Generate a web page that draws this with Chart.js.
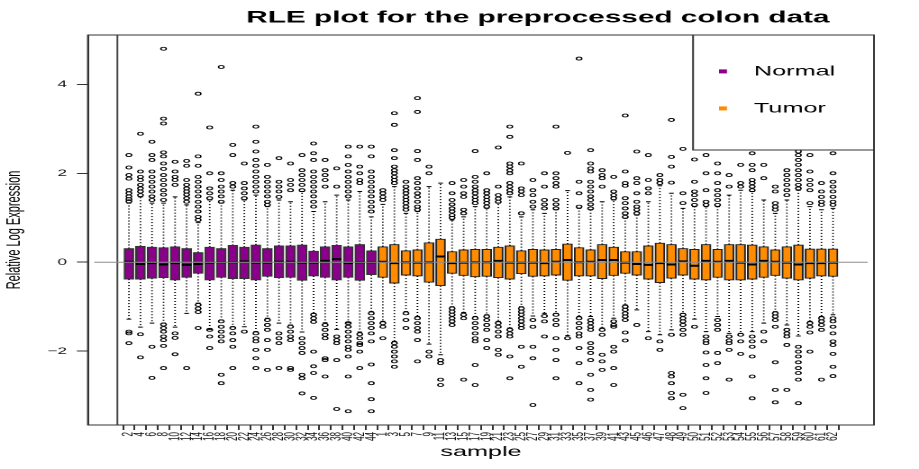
<!DOCTYPE html>
<html>
<head>
<meta charset="utf-8">
<title>RLE plot</title>
<script src="https://cdn.jsdelivr.net/npm/chart.js@4.4.1/dist/chart.umd.min.js"></script>
<style>
html, body { margin: 0; padding: 0; background: #fff; overflow: hidden; }
/* the original R plot is stretched sideways, so the chart is drawn narrow and scaled */
#wrap { width: 510px; height: 469px; transform: scaleX(1.802); transform-origin: 0 0; }
</style>
</head>
<body>
<div id="wrap"><canvas id="mycanvas"></canvas></div>
<script>
var sampleLabels = ["2","4","6","8","10","12","14","16","18","20","22","24","26","28","30","32","34","36","38","40","42","44",
    "1","3","5","7","9","11","13","15","17","19","21","23","25","27","29","31","33","35","37","39","41","43",
    "45","46","47","48","49","50","51","52","53","54","55","56","57","58","59","60","61","62"];

var groupNames = ["Normal", "Tumor"];
var groupColors = ["#8B008B", "#FF8C00"];
var groupSizes = [22, 40];

var q1 = [-0.38,-0.38,-0.36,-0.35,-0.40,-0.34,-0.25,-0.40,-0.34,-0.37,-0.37,-0.40,-0.32,-0.35,-0.34,-0.41,-0.31,-0.34,-0.40,-0.34,-0.41,-0.28,
    -0.34,-0.47,-0.29,-0.31,-0.45,-0.53,-0.25,-0.30,-0.33,-0.32,-0.35,-0.38,-0.26,-0.32,-0.31,-0.29,-0.41,-0.31,-0.31,-0.37,
    -0.30,-0.25,-0.29,-0.38,-0.46,-0.36,-0.29,-0.38,-0.40,-0.34,-0.40,-0.40,-0.38,-0.34,-0.30,-0.36,-0.40,-0.36,-0.31,-0.32];
var medians = [0.01,-0.04,-0.02,-0.05,-0.02,-0.06,-0.04,-0.01,0.00,0.00,0.02,-0.01,-0.01,0.01,0.01,-0.01,-0.01,0.03,0.07,-0.02,0.00,0.00,
    0.01,-0.02,0.00,-0.01,0.00,0.13,-0.02,-0.01,0.00,0.00,0.03,-0.01,-0.01,-0.01,-0.02,0.01,0.05,0.00,0.01,0.05,
    0.05,-0.01,-0.04,-0.06,-0.02,-0.05,0.02,-0.08,0.03,0.01,0.03,-0.01,-0.05,0.03,0.01,-0.01,-0.05,-0.02,-0.02,-0.01];
var q3 = [0.31,0.36,0.34,0.33,0.35,0.31,0.22,0.34,0.31,0.38,0.34,0.39,0.31,0.37,0.37,0.39,0.25,0.35,0.38,0.35,0.40,0.26,
    0.35,0.40,0.26,0.28,0.44,0.52,0.24,0.28,0.29,0.29,0.34,0.37,0.26,0.29,0.28,0.29,0.41,0.33,0.28,0.40,
    0.34,0.24,0.24,0.37,0.43,0.40,0.31,0.29,0.40,0.29,0.40,0.40,0.39,0.35,0.28,0.35,0.39,0.30,0.30,0.30];
var whiskLow = [-1.28,-1.46,-1.37,-1.37,-1.46,-1.15,-0.92,-1.51,-1.30,-1.45,-1.45,-1.56,-1.26,-1.37,-1.41,-1.57,-1.15,-1.36,-1.51,-1.36,-1.57,-1.11,
    -1.33,-1.78,-1.11,-1.22,-1.84,-2.08,-1.00,-1.13,-1.22,-1.18,-1.33,-1.48,-1.00,-1.21,-1.15,-1.15,-1.65,-1.22,-1.22,-1.48,
    -1.26,-0.96,-1.07,-1.56,-1.63,-1.52,-1.15,-1.28,-1.56,-1.22,-1.60,-1.60,-1.56,-1.37,-1.11,-1.41,-1.66,-1.33,-1.22,-1.18];
var whiskHigh = [1.33,1.47,1.33,1.33,1.47,1.29,0.89,1.40,1.33,1.62,1.40,1.51,1.25,1.40,1.36,1.59,1.14,1.36,1.51,1.40,1.59,1.02,
    1.30,1.70,1.10,1.14,1.70,1.78,0.95,1.02,1.25,1.21,1.33,1.47,1.02,1.18,1.10,1.18,1.61,1.21,1.18,1.36,
    1.40,0.99,1.06,1.36,1.72,1.55,1.21,1.25,1.25,1.25,1.51,1.62,1.59,1.40,1.10,1.40,1.62,1.25,1.18,1.21];

var outliers = [
    [2.41,2.13,1.96,1.88,1.62,1.55,1.48,1.42,1.37,-1.56,-1.60,-1.82],
    [2.89,2.04,1.92,1.85,1.74,1.66,1.59,1.51,-1.62,-2.14],
    [2.71,2.41,2.30,2.04,1.92,1.81,1.70,1.59,1.48,1.40,-1.90,-2.60],
    [4.80,3.23,3.12,2.47,2.38,2.22,2.10,1.96,1.85,1.74,1.62,1.52,1.40,-1.40,-1.48,-1.56,-1.67,-1.75,-1.88,-2.38],
    [2.26,2.04,1.92,1.85,1.74,-1.60,-1.70,-2.07],
    [2.28,2.17,1.85,1.74,1.66,1.59,1.52,1.44,1.36,-2.38],
    [3.79,2.38,2.17,1.92,1.81,1.70,1.59,1.48,1.36,1.25,1.14,1.02,0.95,-0.96,-1.04,-1.12,-1.48],
    [3.03,2.00,1.66,1.55,1.44,-1.52,-1.67,-1.93],
    [4.39,2.00,1.85,1.70,1.59,1.48,1.36,-1.33,-1.45,-1.56,-1.67,-1.78,-2.53,-2.72],
    [2.64,2.41,1.78,1.70,-1.48,-1.60,-1.75,-1.90,-2.38],
    [2.22,1.78,1.66,1.55,1.44,-1.56],
    [3.05,2.71,2.49,2.30,2.17,2.04,1.92,1.81,1.70,1.59,-1.60,-1.71,-1.78,-1.97,-2.16,-2.38],
    [2.19,1.92,1.81,1.70,1.59,1.48,1.36,1.29,-1.30,-1.41,-1.52,-1.75,-1.97,-2.42],
    [2.34,1.81,1.70,1.59,1.47,-1.60,-1.71,-1.82,-2.38],
    [2.22,1.85,1.74,1.62,-1.45,-1.56,-1.67,-1.75,-2.38,-2.42],
    [2.41,2.07,1.96,1.85,1.74,1.62,-1.71,-1.82,-1.93,-2.04,-2.53,-2.61,-2.95],
    [2.67,2.45,2.30,2.04,1.92,1.81,1.70,1.59,1.48,1.36,1.25,-1.18,-1.26,-1.34,-2.01,-2.34,-2.49,-3.05],
    [2.30,2.07,1.96,1.85,1.70,-1.41,-1.52,-1.63,-1.71,-2.16,-2.20,-2.57],
    [2.11,1.70,-1.67,-1.75,-1.82,-2.20,-3.30],
    [2.60,2.38,2.19,2.04,1.92,1.81,1.70,1.59,1.48,-1.37,-1.45,-1.56,-1.67,-1.78,-1.90,-1.97,-2.12,-2.57,-3.35],
    [2.60,2.15,2.00,1.85,1.78,-1.62,-1.71,-1.82,-1.86,-2.01,-2.38],
    [2.60,2.38,2.04,1.92,1.81,1.70,1.59,1.48,1.36,1.25,1.14,-1.15,-1.26,-1.37,-1.48,-1.60,-1.78,-2.30,-2.72,-3.08,-3.35],
    [1.62,1.55,1.47,1.40,-1.37,-1.45,-1.71],
    [3.35,3.09,2.52,2.34,2.15,2.07,2.00,1.92,1.85,1.78,-1.82,-1.90,-2.01,-2.12,-2.23,-2.35],
    [1.81,1.70,1.62,1.55,1.47,1.40,1.33,1.25,1.18,-1.15,-1.30,-1.48],
    [3.69,3.38,2.50,2.30,1.89,1.78,1.66,1.55,1.47,1.36,1.25,1.18,-1.26,-1.37,-1.48,-1.56,-1.75,-2.23],
    [2.15,2.00,-2.01,-2.12],
    [-2.20,-2.27,-2.64,-2.76],
    [1.78,1.55,1.40,1.30,1.21,1.14,1.06,1.00,-1.04,-1.11,-1.18,-1.26,-1.33,-1.41],
    [1.85,1.70,1.55,1.47,1.18,1.10,-1.18,-1.26,-2.64],
    [2.50,1.92,1.81,1.70,1.62,1.55,1.47,1.40,1.33,-1.26,-1.37,-1.48,-1.60,-1.71,-1.78,-2.31,-2.76],
    [2.00,1.62,1.55,1.47,1.40,1.33,1.25,-1.22,-1.30,-1.41,-1.52,-1.75,-1.93],
    [2.58,1.70,1.51,1.43,1.36,-1.37,-1.45,-1.56,-1.67,-1.97,-2.08],
    [3.05,2.82,2.22,2.15,2.07,2.00,1.78,1.70,1.62,1.55,-1.52,-1.60,-1.67,-2.12,-2.61],
    [2.22,1.66,1.59,1.51,1.10,-1.04,-1.11,-1.18,-1.26,-1.33,-1.41,-1.48,-1.90,-2.35],
    [1.85,1.62,1.51,1.36,1.25,-1.30,-1.45,-1.90,-2.16,-3.21],
    [2.00,1.70,1.40,1.30,1.21,-1.21,-1.33,-1.67],
    [3.05,2.00,1.89,1.78,1.70,1.40,1.30,1.21,-1.18,-1.30,-1.41,-1.71,-1.97,-2.20,-2.61],
    [2.46,-1.71],
    [4.58,1.81,1.55,1.25,-1.26,-1.37,-1.48,-1.60,-1.67,-1.93,-2.27,-2.72],
    [2.52,2.22,2.11,2.04,1.81,1.70,1.59,1.48,1.40,1.30,1.21,-1.30,-1.37,-1.45,-1.52,-1.82,-1.93,-2.04,-2.20,-2.53,-2.87,-3.09],
    [2.07,1.96,1.89,1.70,-1.52,-1.63,-2.08,-2.23,-2.42],
    [1.92,1.59,1.51,1.44,-1.33,-1.41,-1.45,-1.90,-2.01,-2.38,-2.76],
    [3.30,2.04,1.78,1.72,1.44,1.33,1.21,1.10,1.02,-1.00,-1.07,-1.15,-1.22,-1.30,-1.58,-1.76],
    [2.49,1.89,1.78,1.55,1.36,1.25,1.18,1.10,-1.41],
    [2.41,1.85,1.66,1.55,-1.71],
    [1.96,1.85,1.78,-1.78,-1.97],
    [3.20,2.37,2.15,1.79,-1.63,-2.49,-2.57,-2.72,-2.94,-3.06],
    [2.55,1.55,1.33,-1.18,-1.26,-1.33,-1.41,-1.52,-1.63,-2.98,-3.28],
    [2.31,1.81,1.59,1.51,1.40,1.29,-1.45],
    [2.41,2.00,1.62,1.36,1.29,-1.67,-1.76,-1.82,-2.03,-2.31,-2.61,-2.94],
    [2.22,2.00,1.78,1.62,1.51,1.40,1.29,-1.30,-1.41,-1.52,-2.04,-2.27],
    [1.96,1.70,-1.67,-1.76,-1.82,-1.97,-2.64],
    [2.19,1.78,1.70,-1.63,-1.78,-2.06],
    [2.45,2.19,2.07,1.85,1.78,1.70,1.62,-1.67,-1.78,-1.90,-2.12,-2.57,-3.06],
    [2.19,1.89,-1.56,-1.78],
    [1.70,1.59,1.33,1.25,1.18,-1.15,-1.22,-1.30,-1.45,-2.25,-2.87,-3.15],
    [2.07,1.96,1.85,1.74,1.62,1.51,-1.52,-1.60,-1.67,-1.86,-2.87],
    [2.49,2.41,2.30,2.19,2.07,1.96,1.85,1.74,1.66,-1.90,-2.01,-2.12,-2.25,-2.38,-2.49,-2.64,-3.17],
    [2.41,2.04,1.85,1.74,1.62,1.33,-1.37,-1.45,-1.58,-2.01],
    [1.78,1.59,1.47,1.36,1.29,-1.26,-1.33,-1.41,-1.52,-2.64],
    [2.45,2.00,1.81,1.70,1.59,1.47,1.36,1.29,-1.26,-1.33,-1.45,-1.60,-1.78,-1.86,-2.06,-2.35,-2.56]
];

var yTicks = [-2, 0, 2, 4];
var xRange = [-2, 65];
var yRange = [-3.66, 5.11];

// build the pieces of each box from the arrays above
var boxData = [[], []];
var medianPts = [];
var whiskerPts = [];
var capPts = [];
var outlierPts = [];
for (var i = 0; i < sampleLabels.length; i++) {
    var x = i + 1;
    var g = i < groupSizes[0] ? 0 : 1;
    boxData[g].push({x: x, y: [q1[i], q3[i]]});
    medianPts.push({x: x, y: medians[i]});
    whiskerPts.push({x: x, y: q3[i]}, {x: x, y: whiskHigh[i]}, {x: x, y: null});
    whiskerPts.push({x: x, y: q1[i]}, {x: x, y: whiskLow[i]}, {x: x, y: null});
    capPts.push({x: x, y: whiskHigh[i]}, {x: x, y: whiskLow[i]});
    for (var j = 0; j < outliers[i].length; j++) {
        outlierPts.push({x: x, y: outliers[i][j]});
    }
}

var fontFam = "'Liberation Sans', Arial, Helvetica, sans-serif";

// plot frame, inset legend box and title offset
var framePlugin = {
    id: "frame",
    afterLayout: function(chart) {
        var tb = chart.titleBlock;
        if (tb) { tb.left += 56; tb.right += 56; }
    },
    afterDraw: function(chart) {
        var ctx = chart.ctx;
        var a = chart.chartArea;
        ctx.save();
        ctx.strokeStyle = "#333";
        ctx.lineWidth = 1;
        ctx.strokeRect(a.left, a.top, a.right - a.left, a.bottom - a.top);

        var lx = a.right - 100.4;
        ctx.strokeRect(lx, a.top, a.right - lx, 115);
        ctx.font = "14px " + fontFam;
        ctx.textBaseline = "middle";
        ctx.textAlign = "left";
        var rows = [a.top + 36.4, a.top + 73.4];
        for (var k = 0; k < groupNames.length; k++) {
            ctx.fillStyle = groupColors[k];
            ctx.fillRect(lx + 14.4, rows[k] - 2, 4.4, 4);
            ctx.fillStyle = "#000";
            ctx.fillText(groupNames[k], lx + 33.8, rows[k]);
        }
        ctx.restore();
    }
};

var ctx = document.getElementById("mycanvas");

var rlePlot = new Chart(ctx, {
    type: "bar",
    data: {
        datasets: [
            {
                type: "line",
                label: "zero",
                data: [{x: xRange[0], y: 0}, {x: xRange[1], y: 0}],
                borderColor: "#8c8c8c",
                borderWidth: 1,
                pointRadius: 0,
                order: 1
            },
            {
                type: "line",
                label: "origin",
                data: [{x: 0, y: yRange[0]}, {x: 0, y: yRange[1]}],
                borderColor: "#444",
                borderWidth: 1,
                pointRadius: 0,
                order: 1
            },
            {
                type: "scatter",
                label: "median",
                data: medianPts,
                pointStyle: "line",
                pointRadius: 2.6,
                pointBorderWidth: 2,
                borderColor: "#000",
                order: 2
            },
            {
                type: "scatter",
                label: "caps",
                data: capPts,
                pointStyle: "line",
                pointRadius: 1.3,
                pointBorderWidth: 1,
                borderColor: "#000",
                order: 3
            },
            {
                type: "scatter",
                label: "outliers",
                data: outlierPts,
                pointStyle: "circle",
                pointRadius: 1.5,
                pointBorderWidth: 0.8,
                borderColor: "#000",
                backgroundColor: "rgba(0,0,0,0)",
                order: 3
            },
            {
                label: groupNames[0],
                data: boxData[0],
                backgroundColor: groupColors[0],
                borderColor: "#333",
                borderWidth: 1,
                borderSkipped: false,
                barThickness: 5.2,
                grouped: false,
                order: 4
            },
            {
                label: groupNames[1],
                data: boxData[1],
                backgroundColor: groupColors[1],
                borderColor: "#222",
                borderWidth: 1,
                borderSkipped: false,
                barThickness: 5.2,
                grouped: false,
                order: 4
            },
            {
                type: "line",
                label: "whiskers",
                data: whiskerPts,
                borderColor: "#000",
                borderWidth: 0.9,
                borderDash: [1, 2],
                pointRadius: 0,
                spanGaps: false,
                order: 5
            }
        ]
    },
    options: {
        responsive: true,
        maintainAspectRatio: false,
        devicePixelRatio: 2,
        animation: false,
        events: [],
        layout: { padding: { left: 0, right: 25, top: 0, bottom: 0 } },
        plugins: {
            legend: { display: false },
            tooltip: { enabled: false },
            title: {
                display: true,
                text: "RLE plot for the preprocessed colon data",
                color: "#000",
                font: { family: fontFam, size: 16.5, weight: "bold" },
                padding: { top: 8, bottom: 7.2 }
            }
        },
        scales: {
            x: {
                type: "linear",
                min: xRange[0],
                max: xRange[1],
                afterBuildTicks: function(axis) {
                    axis.ticks = sampleLabels.map(function(l, i) { return {value: i + 1}; });
                },
                afterFit: function(scale) { scale.height = 44; },
                ticks: {
                    autoSkip: false,
                    minRotation: 90,
                    maxRotation: 90,
                    padding: 2,
                    color: "#111",
                    font: { family: fontFam, size: 8 },
                    callback: function(value, index) { return sampleLabels[index]; }
                },
                grid: { drawOnChartArea: false, tickLength: 5, tickColor: "#333", tickWidth: 1 },
                border: { display: true, color: "#333", width: 1 },
                title: {
                    display: true,
                    text: "sample",
                    color: "#000",
                    font: { family: fontFam, size: 14 },
                    padding: { top: 0, bottom: 8.6 }
                }
            },
            y: {
                type: "linear",
                min: yRange[0],
                max: yRange[1],
                afterBuildTicks: function(axis) {
                    axis.ticks = yTicks.map(function(v) { return {value: v}; });
                },
                afterFit: function(scale) { scale.width = 48.8; },
                ticks: {
                    padding: 5.5,
                    color: "#111",
                    font: { family: fontFam, size: 9.5 },
                    callback: function(value) { return value < 0 ? "\u2212" + Math.abs(value) : String(value); }
                },
                grid: { drawOnChartArea: false, tickLength: 6.1, tickColor: "#333", tickWidth: 1 },
                border: { display: true, color: "#333", width: 1 },
                title: {
                    display: true,
                    text: "Relative Log Expression",
                    color: "#000",
                    font: { family: fontFam, size: 11 },
                    padding: { top: 1.2, bottom: 0 }
                }
            }
        }
    },
    plugins: [framePlugin]
});
</script>
</body>
</html>
